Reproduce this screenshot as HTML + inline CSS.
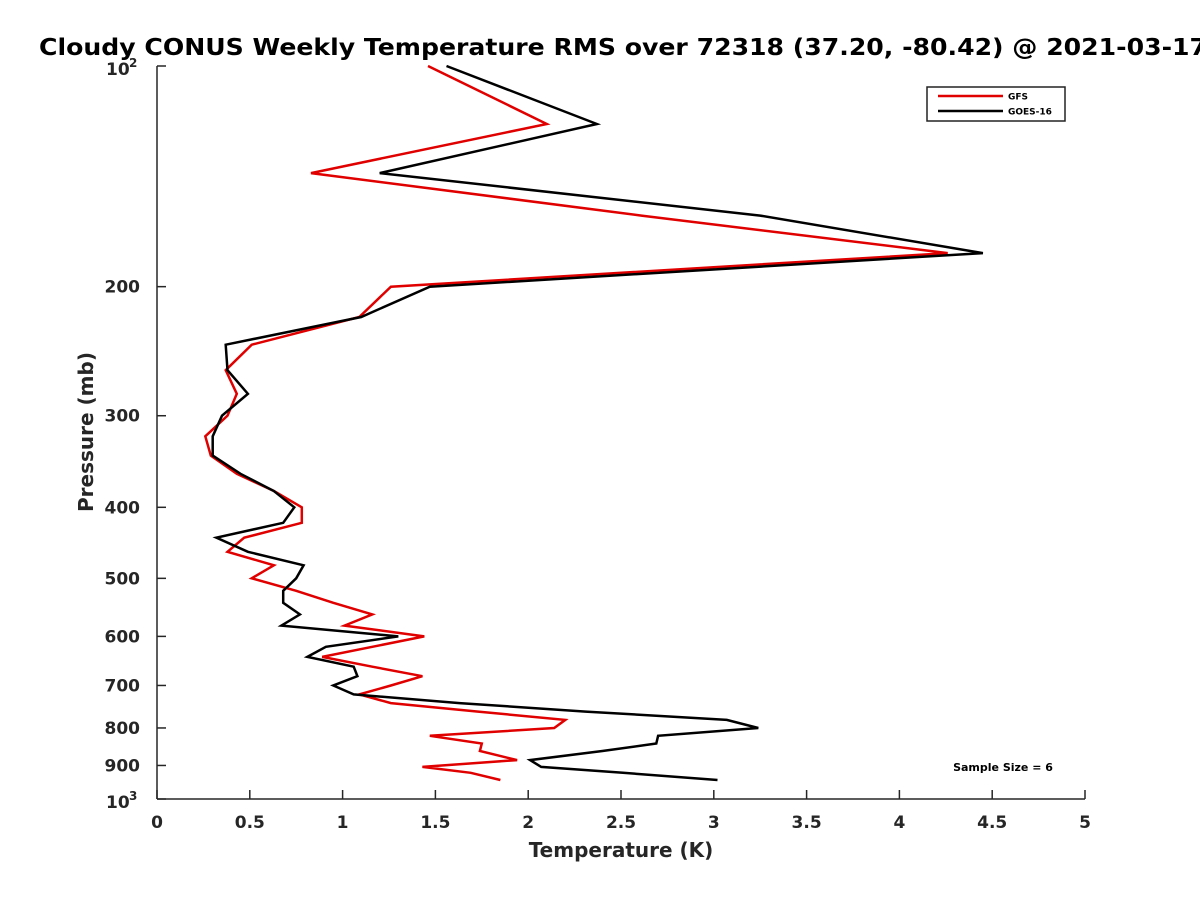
<!DOCTYPE html>
<html><head><meta charset="utf-8"><style>
body{margin:0;background:#fff;}
svg{display:block;font-family:"DejaVu Sans","Liberation Sans",sans-serif;font-weight:bold;}
</style></head><body>
<svg id="chart" width="1200" height="900" viewBox="0 0 1200 900" xmlns="http://www.w3.org/2000/svg">
<rect width="1200" height="900" fill="#fff"/>
<text x="39" y="55" font-size="23" textLength="1168" lengthAdjust="spacingAndGlyphs" fill="#000">Cloudy CONUS Weekly Temperature RMS over 72318 (37.20, -80.42) @ 2021-03-17</text>
<g id="axes"></g>
<g id="series"></g>
<g>
<rect x="927" y="87" width="138" height="34" fill="#fff" stroke="#222" stroke-width="1.5"/>
<line x1="938" y1="96" x2="1003" y2="96" stroke="#e00000" stroke-width="2.5"/>
<text x="1008" y="99.5" font-size="9">GFS</text>
<line x1="938" y1="111" x2="1003" y2="111" stroke="#000" stroke-width="2.5"/>
<text x="1008" y="114.5" font-size="9">GOES-16</text>
</g>
<text x="1003" y="771" font-size="11" text-anchor="middle">Sample Size = 6</text>
<text x="621" y="857" font-size="20" text-anchor="middle" fill="#262626">Temperature (K)</text>
<text transform="translate(93,432) rotate(-90)" font-size="20" text-anchor="middle" fill="#262626">Pressure (mb)</text>
</svg>
<script>
const pressure = [100,120,140,160,180,200,220,240,260,280,300,320,340,360,380,400,420,440,460,480,500,520,540,560,580,600,620,640,660,680,700,720,740,760,780,800,820,840,860,885,904,921,942];
const gfsValues = [1.46,2.10,0.83,2.61,4.26,1.26,1.09,0.51,0.37,0.43,0.38,0.26,0.29,0.43,0.63,0.78,0.78,0.47,0.38,0.63,0.51,0.75,0.95,1.16,1.01,1.44,1.16,0.89,1.16,1.43,1.26,1.09,1.26,1.73,2.20,2.14,1.47,1.75,1.74,1.94,1.43,1.69,1.85];
const goesValues = [1.56,2.37,1.20,3.25,4.45,1.47,1.10,0.37,0.38,0.49,0.35,0.30,0.30,0.45,0.63,0.74,0.68,0.32,0.49,0.79,0.75,0.68,0.68,0.77,0.67,1.30,0.91,0.81,1.06,1.08,0.95,1.06,1.63,2.31,3.07,3.24,2.70,2.69,2.40,2.01,2.07,2.51,3.02];
const xTicks = [0,0.5,1,1.5,2,2.5,3,3.5,4,4.5,5];
const yTicks = [200,300,400,500,600,700,800,900];

const L=157,R=1085,T=66,B=799;
const xScale=v=>L+(v-0)/(5-0)*(R-L);
const yScale=p=>T+Math.log10(p/100)*(B-T);
const NS="http://www.w3.org/2000/svg";
function mk(tag,attrs,parent,txt){const e=document.createElementNS(NS,tag);for(const k in attrs)e.setAttribute(k,attrs[k]);if(txt!==undefined)e.textContent=txt;parent.appendChild(e);return e;}
const ax=document.getElementById('axes');
const yl=mk('line',{x1:L,y1:T,x2:L,y2:B,stroke:'#262626','stroke-width':1.5},ax);


const xl=mk('line',{x1:L,y1:B,x2:R,y2:B,stroke:'#262626','stroke-width':1.5},ax);


xTicks.forEach(v=>{
  const x=xScale(v);
  mk('line',{x1:x,y1:B,x2:x,y2:B-9,stroke:'#262626','stroke-width':1.5},ax);
  const t=mk('text',{x:x,y:828,'font-size':17,'text-anchor':'middle',fill:'#262626'},ax,String(v));
  
  
});
[100,1000].concat(yTicks).forEach(p=>{
  const y=yScale(p);
  mk('line',{x1:L,y1:y,x2:L+9,y2:y,stroke:'#262626','stroke-width':1.5},ax);
});
yTicks.forEach(p=>{
  const t=mk('text',{x:140,y:yScale(p)+6,'font-size':17,'text-anchor':'end',fill:'#262626'},ax,String(p));
  
  
});
[[100,'2'],[1000,'3']].forEach(([p,e])=>{
  const y=yScale(p);
  const t=mk('text',{x:106,y:y+9,'font-size':17,fill:'#262626'},ax,'10');
  
  
  mk('text',{x:129,y:y+1,'font-size':12,fill:'#262626'},ax,e);
});
const sg=document.getElementById('series');
function drawLine(vals,color,name){
  const pts=vals.map((v,i)=>xScale(v).toFixed(1)+','+yScale(pressure[i]).toFixed(1)).join(' ');
  const pl=mk('polyline',{points:pts,fill:'none',stroke:color,'stroke-width':2.5,'stroke-linejoin':'miter'},sg);
  
  
}
drawLine(gfsValues,'#e00000','gfs-line');
drawLine(goesValues,'#000000','goes16-line');
</script>
</body></html>
